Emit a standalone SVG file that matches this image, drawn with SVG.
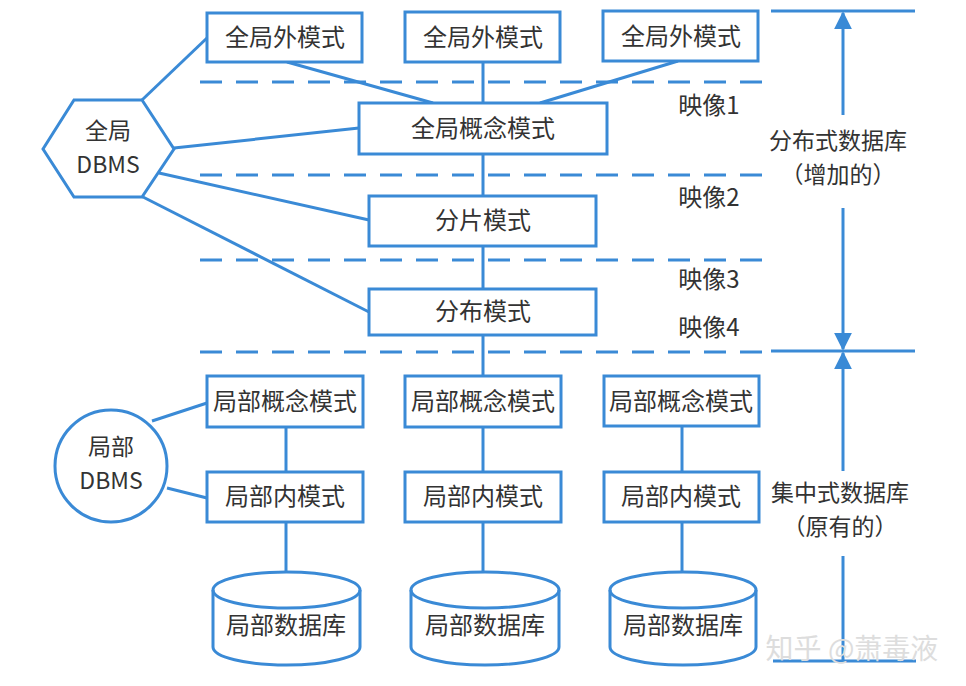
<svg xmlns="http://www.w3.org/2000/svg" width="966" height="686" viewBox="0 0 966 686">
<style>
.b{fill:#fff;stroke:#3a8ad6;stroke-width:3}
.l{fill:none;stroke:#3a8ad6;stroke-width:3}
.d{fill:none;stroke:#3a8ad6;stroke-width:3;stroke-dasharray:22 14}
text{font-family:"Noto Sans CJK SC","Noto Sans",sans-serif;font-size:24px;fill:#333;text-anchor:middle}
.s{font-size:23px}
.wm{fill:#ddd;font-size:28px}
</style>
<defs>
<marker id="ah" viewBox="0 0 10 10" refX="9" refY="5" markerWidth="6" markerHeight="6" markerUnits="strokeWidth" orient="auto"><path d="M0,0L10,5L0,10z" fill="#3a8ad6"/></marker>
</defs>
<rect width="966" height="686" fill="#fff"/>
<g id="connectors">
<line class="d" x1="200" y1="82" x2="762" y2="82"/>
<line class="d" x1="200" y1="175" x2="762" y2="175"/>
<line class="d" x1="200" y1="260" x2="762" y2="260"/>
<line class="d" x1="200" y1="352" x2="762" y2="352"/>
<line class="l" x1="771" y1="11" x2="915" y2="11"/>
<line class="l" x1="771" y1="351" x2="915" y2="351"/>
<line class="l" x1="773" y1="661" x2="916" y2="661"/>
<line class="l" x1="843" y1="115" x2="843" y2="13" marker-end="url(#ah)"/>
<line class="l" x1="843" y1="208" x2="843" y2="349" marker-end="url(#ah)"/>
<line class="l" x1="843" y1="471" x2="843" y2="353" marker-end="url(#ah)"/>
<line class="l" x1="843" y1="556" x2="843" y2="661"/>
<line class="l" x1="287" y1="62" x2="433" y2="103"/>
<line class="l" x1="483" y1="62" x2="483" y2="376"/>
<line class="l" x1="678" y1="61" x2="540" y2="103"/>
<line class="l" x1="142" y1="100" x2="207" y2="38"/>
<line class="l" x1="174" y1="148" x2="359" y2="128"/>
<line class="l" x1="159" y1="173" x2="369" y2="220"/>
<line class="l" x1="143" y1="197" x2="369" y2="312"/>
<line class="l" x1="152" y1="421" x2="207" y2="403"/>
<line class="l" x1="167" y1="488" x2="207" y2="498"/>
<line class="l" x1="286" y1="427" x2="286" y2="572"/>
<line class="l" x1="483" y1="427" x2="483" y2="572"/>
<line class="l" x1="682" y1="427" x2="682" y2="572"/>
</g>
<g id="ext1"><rect class="b" x="207" y="13" width="155" height="49"/><text x="285" y="46">全局外模式</text></g>
<g id="ext2"><rect class="b" x="405" y="12" width="155" height="50"/><text x="483" y="46">全局外模式</text></g>
<g id="ext3"><rect class="b" x="603" y="11" width="155" height="50"/><text x="681" y="45">全局外模式</text></g>
<g id="gconcept"><rect class="b" x="359" y="103" width="248" height="51"/><text x="483" y="137">全局概念模式</text></g>
<g id="frag"><rect class="b" x="369" y="196" width="227" height="50"/><text x="483" y="229">分片模式</text></g>
<g id="dist"><rect class="b" x="369" y="289" width="227" height="46"/><text x="483" y="320">分布模式</text></g>
<g id="gdbms"><polygon class="b" points="43,149 74,100 142,100 174,149 142,197 74,197"/><text class="s" x="108" y="139">全局</text><text class="s" x="108" y="173">DBMS</text></g>
<g id="ldbms"><circle class="b" cx="111" cy="466" r="56"/><text class="s" x="111" y="455">局部</text><text class="s" x="111" y="489">DBMS</text></g>
<g id="lc1"><rect class="b" x="207" y="376" width="156" height="51"/><text x="285" y="410">局部概念模式</text></g>
<g id="lc2"><rect class="b" x="405" y="376" width="156" height="51"/><text x="483" y="410">局部概念模式</text></g>
<g id="lc3"><rect class="b" x="604" y="376" width="155" height="50"/><text x="681" y="410">局部概念模式</text></g>
<g id="li1"><rect class="b" x="207" y="472" width="156" height="50"/><text x="285" y="505">局部内模式</text></g>
<g id="li2"><rect class="b" x="405" y="472" width="156" height="50"/><text x="483" y="505">局部内模式</text></g>
<g id="li3"><rect class="b" x="604" y="472" width="155" height="50"/><text x="681" y="505">局部内模式</text></g>
<g id="db1"><path class="b" d="M213,590 L213,647 A73,18 0 0 0 360,647 L360,590 A73,18 0 0 0 213,590 Z"/><path class="l" d="M213,590 A73,18 0 0 0 360,590"/><text x="286" y="634">局部数据库</text></g>
<g id="db2"><path class="b" d="M411,590 L411,647 A74,18 0 0 0 559,647 L559,590 A74,18 0 0 0 411,590 Z"/><path class="l" d="M411,590 A74,18 0 0 0 559,590"/><text x="485" y="634">局部数据库</text></g>
<g id="db3"><path class="b" d="M610,590 L610,647 A73,18 0 0 0 756,647 L756,590 A73,18 0 0 0 610,590 Z"/><path class="l" d="M610,590 A73,18 0 0 0 756,590"/><text x="683" y="634">局部数据库</text></g>
<g id="labels">
<text x="709" y="114">映像1</text>
<text x="709" y="206">映像2</text>
<text x="709" y="288">映像3</text>
<text x="709" y="336">映像4</text>
<text class="s" x="838" y="149">分布式数据库</text>
<text class="s" x="838" y="183">（增加的）</text>
<text class="s" x="840" y="501">集中式数据库</text>
<text class="s" x="840" y="535">（原有的）</text>
<text class="wm" x="852" y="659">知乎 @萧毒液</text>
</g>
</svg>
